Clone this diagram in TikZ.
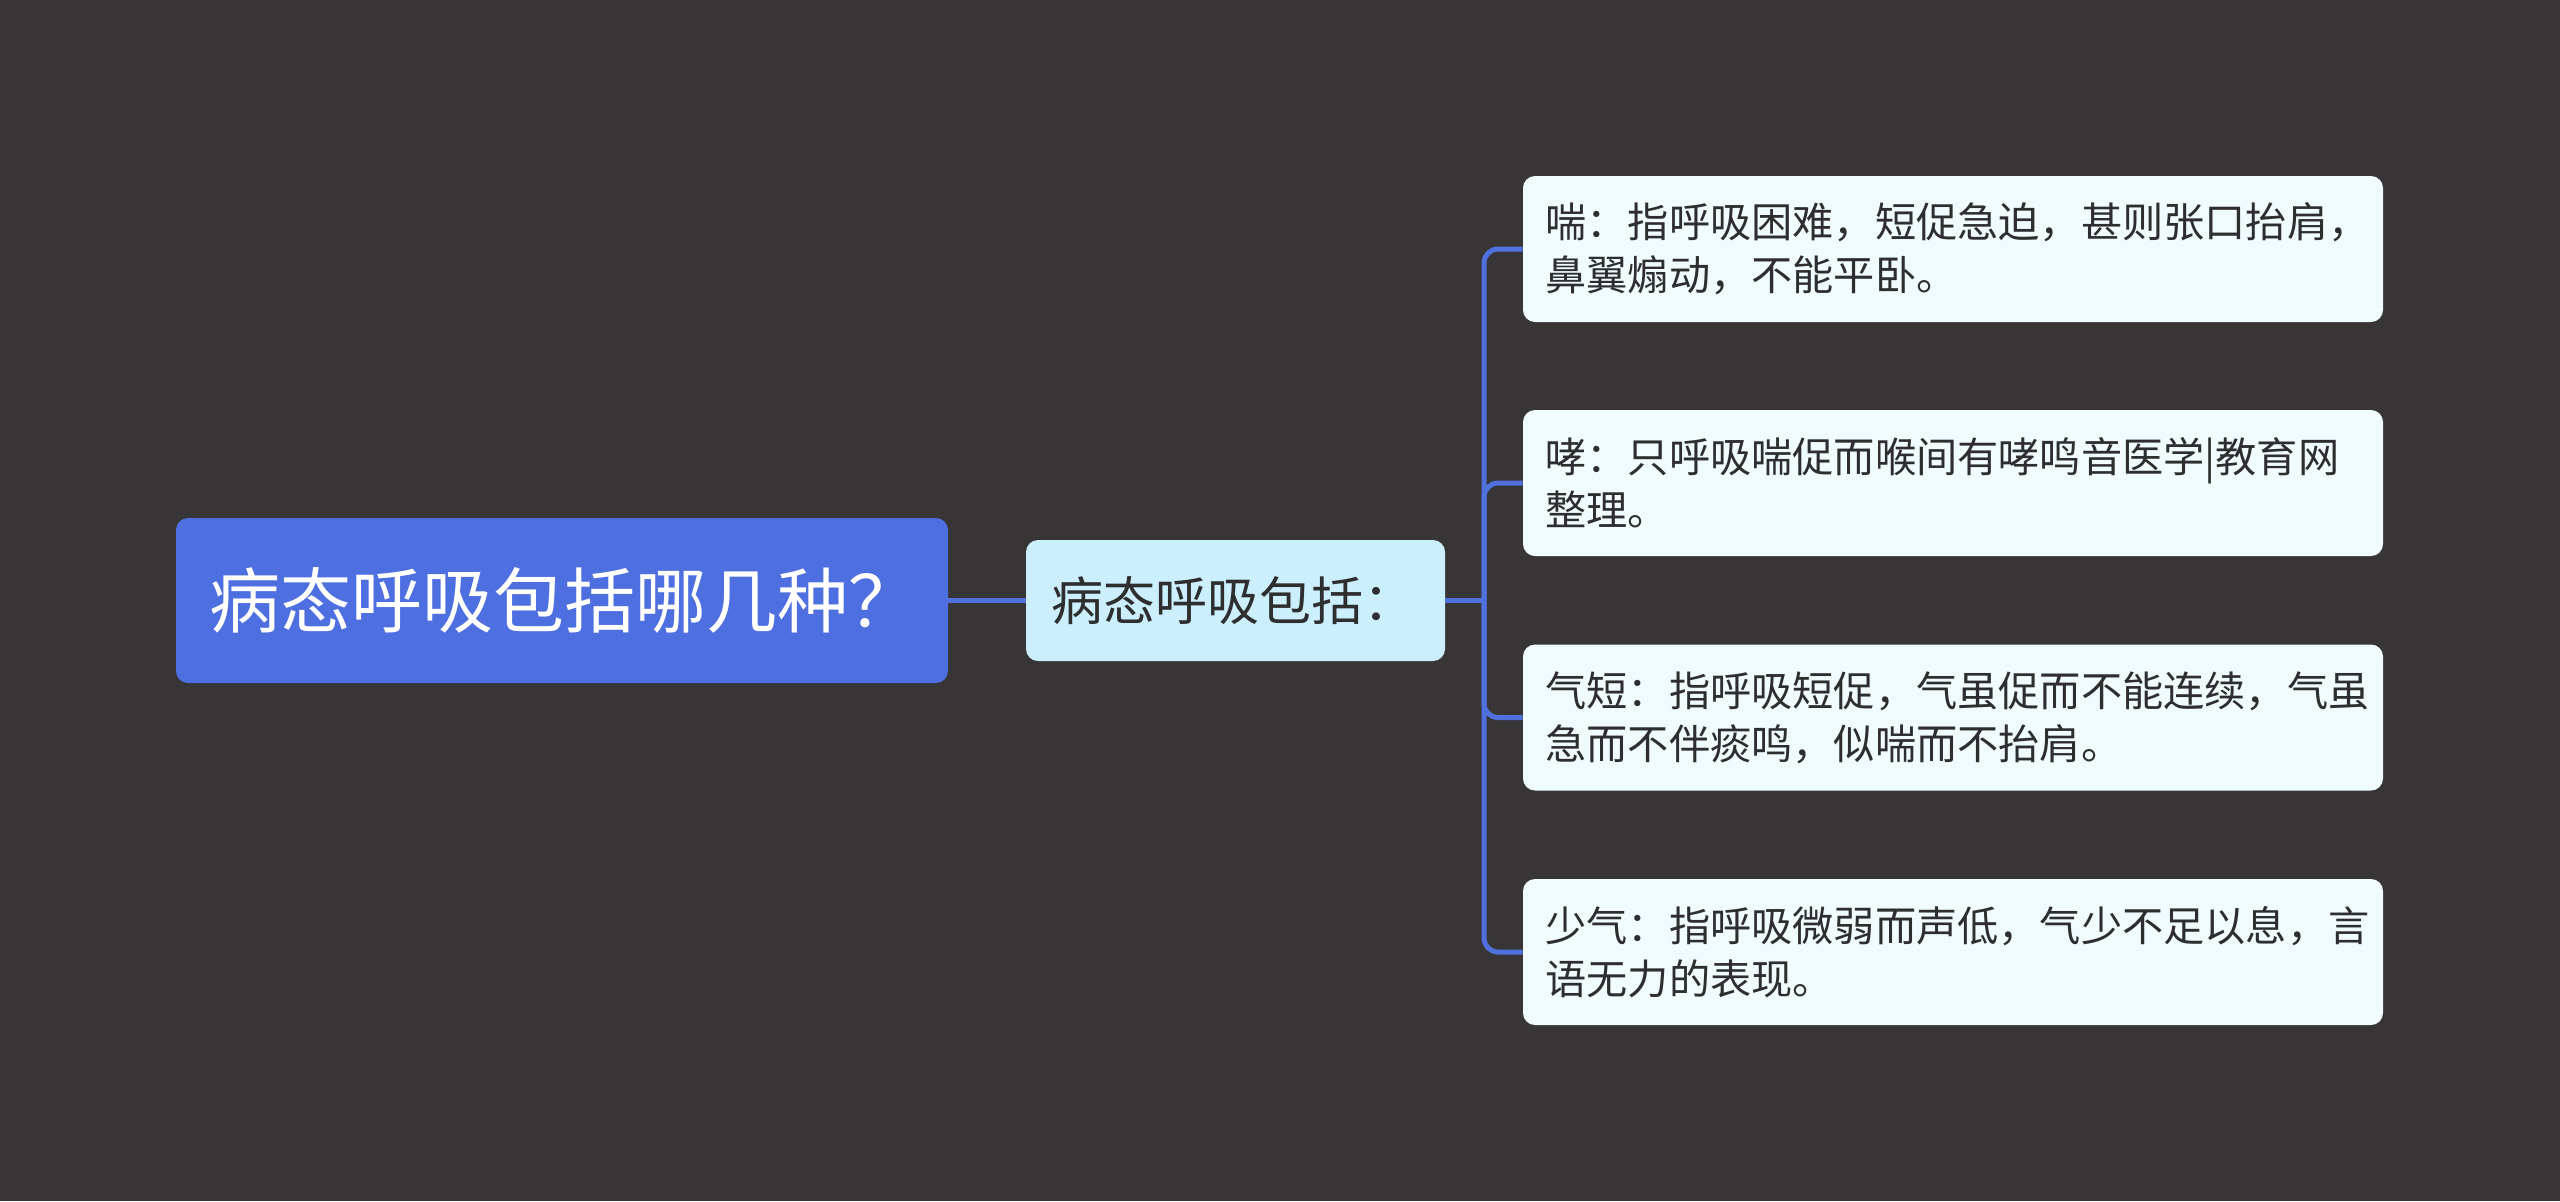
\documentclass[tikz,border=0pt]{standalone}
\usepackage{fontspec}
\setmainfont{Noto Sans CJK SC}
\definecolor{bg}{HTML}{373536}
\definecolor{rootblue}{HTML}{4E6FE0}
\definecolor{linkblue}{HTML}{5070DE}
\definecolor{childfill}{HTML}{CCEFFD}
\definecolor{leaffill}{HTML}{F0FBFD}
\definecolor{txt}{HTML}{2E2E2E}
\tikzset{
  rootbox/.style={fill=rootblue, rounded corners=6pt, minimum width=386pt, minimum height=82.5pt, inner sep=0pt},
  childbox/.style={fill=childfill, rounded corners=6pt, minimum width=209.5pt, minimum height=60.5pt, inner sep=0pt},
  leafbox/.style={fill=leaffill, rounded corners=6pt, minimum width=430pt, minimum height=73pt, inner sep=0pt},
  leaftext/.style={anchor=west, text=txt, align=left, text width=420pt, inner sep=0pt,
    font=\fontsize{20.6pt}{26.5pt}\selectfont},
  link/.style={draw=linkblue, line width=2.5pt},
}
\begin{document}
\begin{tikzpicture}[x=1pt,y=-1pt]
\fill[bg] (0,0) rectangle (1280,600.5);
\useasboundingbox (0,0) rectangle (1280,600.5);
% nodes
\node[rootbox] (root) at (281,300.25) {};
\node[anchor=west, text=white, inner sep=0pt, font=\fontsize{35.5pt}{42pt}\selectfont] (roott) at (104.5,300.25) {病态呼吸包括哪几种？};
\node[childbox] (child) at (617.75,300.25) {};
\node[anchor=west, text=txt, inner sep=0pt, font=\fontsize{26pt}{32pt}\selectfont] (childt) at (525.5,300.25) {病态呼吸包括：};
\node[leafbox] (l1) at (976.5,124.5) {};
\node[leafbox] (l2) at (976.5,241.5) {};
\node[leafbox] (l3) at (976.5,358.75) {};
\node[leafbox] (l4) at (976.5,476) {};
\node[leaftext] (t1) at (772.5,124.5) {喘：指呼吸困难，短促急迫，甚则张口抬肩，\\鼻翼煽动，不能平卧。};
\node[leaftext] (t2) at (772.5,241.5) {哮：只呼吸喘促而喉间有哮鸣音医学|教育网\\整理。};
\node[leaftext] (t3) at (772.5,358.75) {气短：指呼吸短促，气虽促而不能连续，气虽\\急而不伴痰鸣，似喘而不抬肩。};
\node[leaftext] (t4) at (772.5,476) {少气：指呼吸微弱而声低，气少不足以息，言\\语无力的表现。};
% connectors
\coordinate (bx) at (742,300.25);
\draw[link] (root.east) -- (child.west);
\draw[link] (child.east) -- (bx);
\foreach \l in {l1,l2,l3,l4}{
  \draw[link, rounded corners=7pt] (bx) |- (\l.west);
}
\end{tikzpicture}
\end{document}
